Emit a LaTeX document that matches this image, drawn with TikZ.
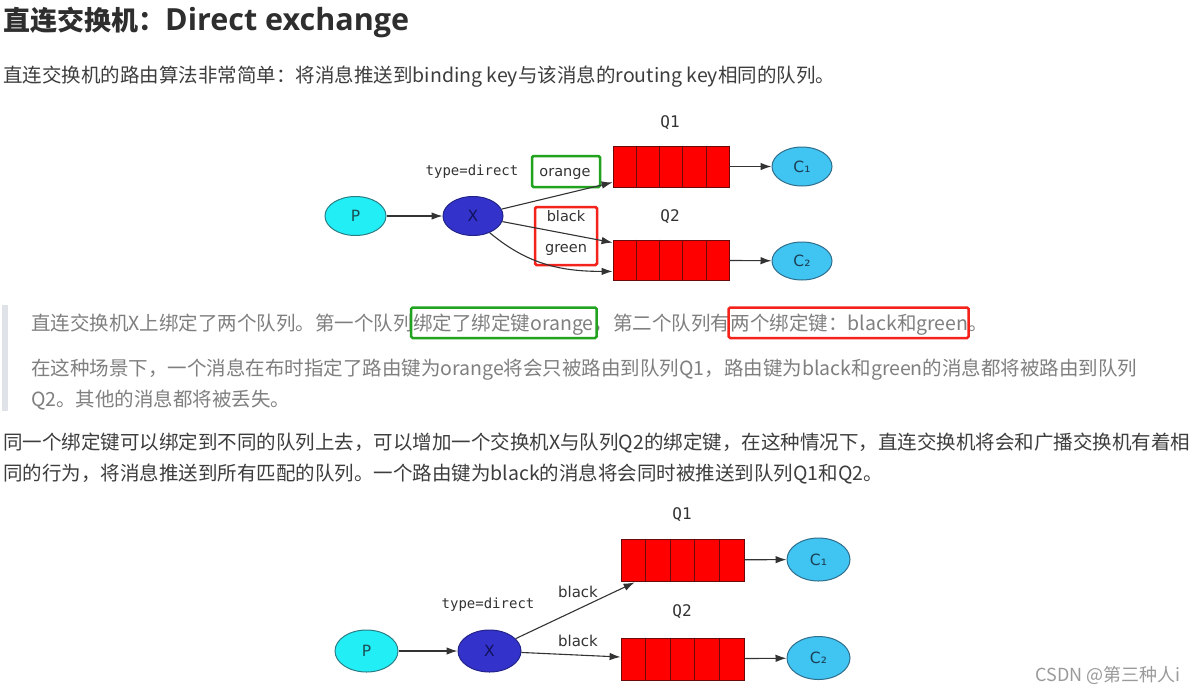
\documentclass[tikz,border=0pt]{standalone}
\usepackage{fontspec}
\setmainfont{Noto Sans CJK SC}
\newfontfamily\dv{DejaVu Sans}
\newfontfamily\dvm{DejaVu Sans Mono}
\newfontfamily\opensans{Open Sans}
\usetikzlibrary{shapes.geometric,arrows.meta,calc}
\definecolor{chead}{HTML}{2E2E2E}
\definecolor{cbody}{HTML}{3D3D3D}
\definecolor{cquote}{HTML}{7F7F7F}
\definecolor{cbar}{HTML}{DFE2E7}
\definecolor{gbox}{HTML}{22A31F}
\definecolor{rbox}{HTML}{F5221B}
\definecolor{pfill}{HTML}{22EEF5}
\definecolor{pdraw}{HTML}{2A7F86}
\definecolor{plabel}{HTML}{1B4F55}
\definecolor{xfill}{HTML}{3333CC}
\definecolor{xdraw}{HTML}{222288}
\definecolor{xlabel}{HTML}{11115A}
\definecolor{cfill}{HTML}{40C4F2}
\definecolor{cdraw}{HTML}{2F6E8C}
\definecolor{clabel}{HTML}{1B3F55}
\definecolor{qred}{HTML}{FF0000}
\definecolor{qdraw}{HTML}{6A0A0A}
\definecolor{cedge}{HTML}{333333}
\definecolor{cdiag}{HTML}{333333}
\definecolor{cwm}{HTML}{9A9A9A}
\begin{document}
\begin{tikzpicture}[x=1pt,y=-1pt,
  txt/.style={anchor=base west, inner sep=0pt, text=cbody, font=\fontsize{19.5}{31}\selectfont},
  qtxt/.style={txt, text=cquote},
  ell/.style={ellipse, inner sep=0pt, line width=1pt, font=\dv\fontsize{15.5}{17}\selectfont},
  pnode/.style={ell, fill=pfill, draw=pdraw, text=plabel},
  xnode/.style={ell, fill=xfill, draw=xdraw, text=xlabel},
  cnode/.style={ell, fill=cfill, draw=cdraw, text=clabel},
  queue/.style={rectangle, draw=qdraw, fill=qred, line width=0.8pt, inner sep=0pt},
  qline/.style={draw=qdraw, line width=0.8pt},
  arr/.style={draw=cedge, line width=1.1pt, -{Latex[length=11pt,width=7.5pt]}},
  lab/.style={inner sep=0pt, text=cdiag, font=\dv\fontsize{14.5}{16}\selectfont},
  monolab/.style={inner sep=0pt, text=cdiag, font=\dvm\fontsize{14}{16}\selectfont},
  qlab/.style={inner sep=0pt, text=cdiag, font=\dvm\fontsize{16}{18}\selectfont},
  greenbox/.style={draw=gbox, line width=2.5pt, rounded corners=1.5pt},
  redbox/.style={draw=rbox, line width=2.5pt, rounded corners=1.5pt}
]
\useasboundingbox[fill=white] (0,0) rectangle (1199,694);

% heading and first line
\node[txt, text=chead, font=\bfseries\fontsize{27}{32}\selectfont] (head) at (3,30) {直连交换机：{\opensans\bfseries\fontsize{30.5}{34}\selectfont Direct exchange}};
\node[txt] (l1) at (3,82) {直连交换机的路由算法非常简单：将消息推送到binding key与该消息的routing key相同的队列。};

% ---------- diagram 1 ----------
\node[pnode, minimum width=61pt, minimum height=39pt] (p1) at (355.5,216) {P};
\node[xnode, minimum width=60pt, minimum height=39pt] (x1) at (473,216) {X};
\node[queue, minimum width=116pt, minimum height=41pt] (q1a) at (671,166.5) {};
\node[queue, minimum width=116pt, minimum height=40pt] (q2a) at (671,260) {};
\node[cnode, minimum width=60pt, minimum height=39pt] (c1a) at (802,166.5) {C₁};
\node[cnode, minimum width=60pt, minimum height=38pt] (c2a) at (802,261) {C₂};
\foreach \q in {q1a,q2a}{
  \foreach \i in {1,...,4}{
    \draw[qline] ($(\q.north west)!\i/5!(\q.north east)$) -- ($(\q.south west)!\i/5!(\q.south east)$);
  }
}
\node[monolab] (t1) at (472,172) {type=direct};
\node[qlab] (lq1a) at (670,123) {Q1};
\node[qlab] (lq2a) at (670,217) {Q2};
\node[lab] (lor) at (565,174) {orange};
\node[lab] (lbl) at (566,216) {black};
\node[lab] (lgr) at (566,250) {green};
\node[greenbox, minimum width=68pt, minimum height=31pt] (gb1) at (566,171.5) {};
\node[redbox, minimum width=62pt, minimum height=58pt] (rb1) at (566,236) {};
\draw[arr] (p1) -- (x1);
\draw[arr] (x1) -- ([yshift=5pt]q1a.south west);
\draw[arr] (x1) -- ([yshift=-3pt]q2a.north west);
\draw[arr] (x1.-45) to[out=-40, in=180] ([yshift=9pt]q2a.south west);
\draw[arr] (q1a) -- (c1a);
\draw[arr] (q2a) -- (c2a);

% ---------- quote ----------
\fill[cbar] (2,305) rectangle (8,411);
\node[qtxt] (qa) at (31,330) {直连交换机X上绑定了两个队列。第一个队列};
\node[qtxt] (qb) at (qa.base east) {绑定了绑定键orange};
\node[qtxt] (qc) at (qb.base east) {，第二个队列有};
\node[qtxt] (qd) at (qc.base east) {两个绑定键：black和green};
\node[qtxt] (qe) at (qd.base east) {。};
\coordinate (btop) at (0,307.5);
\coordinate (bbot) at (0,338);
\draw[greenbox] ([xshift=-2pt]qb.west |- btop) rectangle ([xshift=3pt]qb.east |- bbot);
\draw[redbox] ([xshift=-2pt]qd.west |- btop) rectangle ([xshift=0pt]qd.east |- bbot);
\node[qtxt] (q2) at (31,375) {在这种场景下，一个消息在布时指定了路由键为orange将会只被路由到队列Q1，路由键为black和green的消息都将被路由到队列};
\node[qtxt] (q3) at (31,406) {Q2。其他的消息都将被丢失。};

% ---------- paragraph ----------
\node[txt] (pa) at (3,449) {同一个绑定键可以绑定到不同的队列上去，可以增加一个交换机X与队列Q2的绑定键，在这种情况下，直连交换机将会和广播交换机有着相};
\node[txt] (pb) at (3,480) {同的行为，将消息推送到所有匹配的队列。一个路由键为black的消息将会同时被推送到队列Q1和Q2。};

% ---------- diagram 2 ----------
\node[pnode, minimum width=63pt, minimum height=42pt] (p2) at (366.5,651) {P};
\node[xnode, minimum width=63pt, minimum height=42pt] (x2) at (489.5,651) {X};
\node[queue, minimum width=123pt, minimum height=42pt] (q1b) at (682.5,560) {};
\node[queue, minimum width=123pt, minimum height=42pt] (q2b) at (682.5,659) {};
\node[cnode, minimum width=63pt, minimum height=43pt] (c1b) at (818.5,559.5) {C₁};
\node[cnode, minimum width=63pt, minimum height=43pt] (c2b) at (818.5,658) {C₂};
\foreach \q in {q1b,q2b}{
  \foreach \i in {1,...,4}{
    \draw[qline] ($(\q.north west)!\i/5!(\q.north east)$) -- ($(\q.south west)!\i/5!(\q.south east)$);
  }
}
\node[monolab] (t2) at (488,605) {type=direct};
\node[qlab] (lq1b) at (682,515) {Q1};
\node[qlab] (lq2b) at (682,612) {Q2};
\node[lab, font=\dv\fontsize{15}{17}\selectfont] (lb1) at (578,592) {black};
\node[lab, font=\dv\fontsize{15}{17}\selectfont] (lb2) at (578,641) {black};
\draw[arr] (p2) -- (x2);
\draw[arr] (x2) -- ([xshift=14pt,yshift=-1pt]q1b.south west);
\draw[arr] (x2) -- ([yshift=2pt]q2b.west);
\draw[arr] (q1b) -- (c1b);
\draw[arr] (q2b) -- (c2b);

% watermark
\node[anchor=east, inner sep=0pt, text=cwm, font=\fontsize{18}{20}\selectfont] (wm) at (1181,675) {CSDN @第三种人i};
\end{tikzpicture}
\end{document}
